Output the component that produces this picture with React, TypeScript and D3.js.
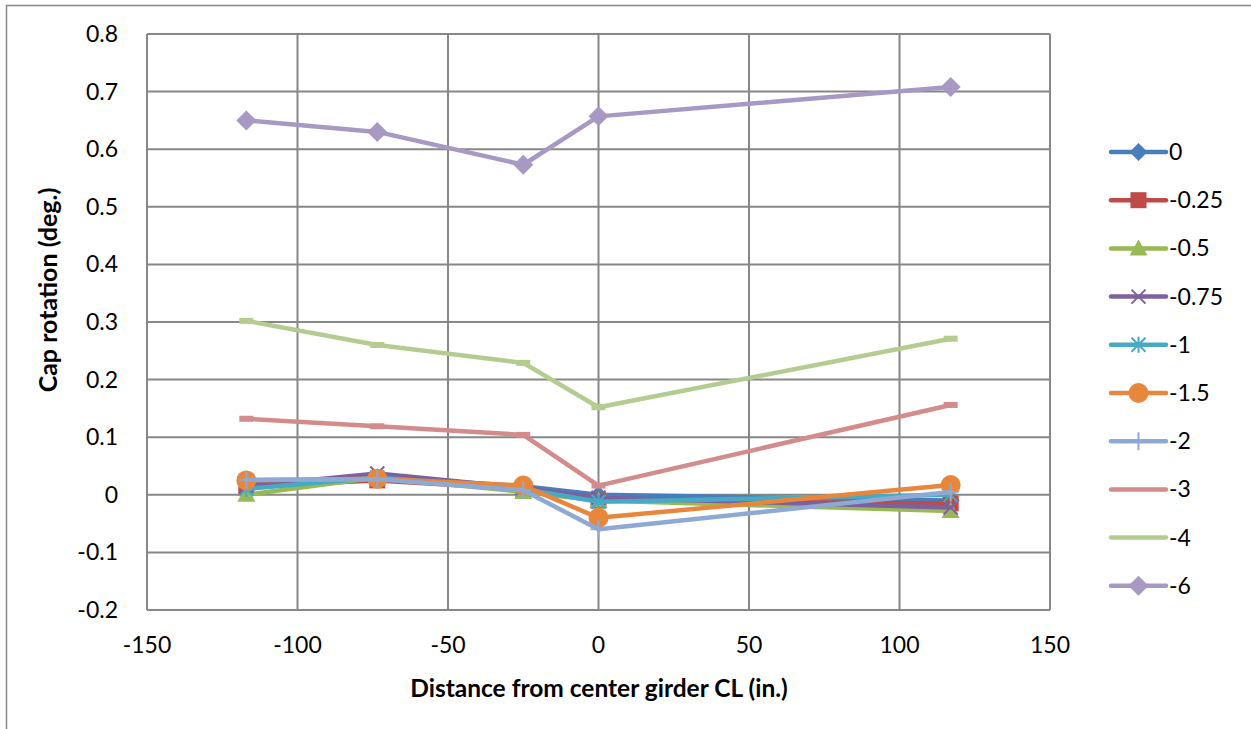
import React from "react";
import * as d3 from "d3";

const xValues = [-117, -73.5, -25, 0, 117];
const seriesNames = ["0", "-0.25", "-0.5", "-0.75", "-1", "-1.5", "-2", "-3", "-4", "-6"];
const s0 = [0.02, 0.03, 0.015, 0.0, -0.01];
const s025 = [0.015, 0.025, 0.01, -0.01, -0.015];
const s05 = [0.0, 0.03, 0.005, -0.01, -0.028];
const s075 = [0.015, 0.037, 0.012, -0.005, -0.022];
const s1 = [0.01, 0.03, 0.01, -0.012, 0.0];
const s15 = [0.025, 0.028, 0.016, -0.04, 0.017];
const s2 = [0.026, 0.027, 0.008, -0.06, 0.005];
const s3 = [0.132, 0.119, 0.104, 0.016, 0.156];
const s4 = [0.302, 0.26, 0.229, 0.152, 0.271];
const s6 = [0.65, 0.63, 0.573, 0.657, 0.708];
const seriesValues = [s0, s025, s05, s075, s1, s15, s2, s3, s4, s6];
const colors = ["#4A7EBB", "#BE4B48", "#98B954", "#7D60A0", "#46AAC5", "#E8873C", "#8EA9D3", "#D48B8B", "#B5CC90", "#A898C4"];
const markers = ["diamond", "square", "triangle", "x", "star", "circle", "plus", "dash", "dash", "diamond6"];
const xTicks = [-150, -100, -50, 0, 50, 100, 150];
const yTicks = [-0.2, -0.1, 0, 0.1, 0.2, 0.3, 0.4, 0.5, 0.6, 0.7, 0.8];

const FONT = "Lato, 'Open Sans', sans-serif";

function Marker({ type, x, y, color }: { type: string; x: number; y: number; color: string }) {
  switch (type) {
    case "diamond":
      return <path d={`M${x},${y - 9}L${x + 9},${y}L${x},${y + 9}L${x - 9},${y}Z`} fill={color} />;
    case "diamond6":
      return <path d={`M${x},${y - 10}L${x + 10},${y}L${x},${y + 10}L${x - 10},${y}Z`} fill={color} />;
    case "square":
      return <rect x={x - 8} y={y - 8} width={16} height={16} fill={color} />;
    case "triangle":
      return <path d={`M${x},${y - 9}L${x + 9},${y + 7}L${x - 9},${y + 7}Z`} fill={color} />;
    case "x":
      return (
        <path d={`M${x - 7},${y - 7}L${x + 7},${y + 7}M${x - 7},${y + 7}L${x + 7},${y - 7}`} stroke={color} strokeWidth={2} />
      );
    case "star":
      return (
        <path
          d={`M${x - 7},${y - 7}L${x + 7},${y + 7}M${x - 7},${y + 7}L${x + 7},${y - 7}M${x},${y - 8}L${x},${y + 8}`}
          stroke={color}
          strokeWidth={2}
        />
      );
    case "circle":
      return <circle cx={x} cy={y} r={10} fill={color} />;
    case "plus":
      return <path d={`M${x - 8},${y}L${x + 8},${y}M${x},${y - 9}L${x},${y + 9}`} stroke={color} strokeWidth={2} />;
    case "dash":
      return <rect x={x - 7} y={y - 3} width={14} height={6} fill={color} />;
    default:
      return null;
  }
}

export default function App() {
  const W = 1251;
  const H = 729;
  const left = 147;
  const right = 1050;
  const top = 34;
  const bottom = 610;
  const x = d3.scaleLinear().domain([-150, 150]).range([left, right]);
  const y = d3.scaleLinear().domain([-0.2, 0.8]).range([bottom, top]);
  const line = d3
    .line<number>()
    .x((_, i) => x(xValues[i]))
    .y((d) => y(d));

  const legendX1 = 1111;
  const legendX2 = 1166;
  const legendY0 = 152;
  const legendStep = 48.2;
  const gridColor = "#878787";
  const fmt = (t: number) => String(Number(t.toFixed(1)));

  return (
    <div style={{ position: "fixed", left: 0, top: 0 }}>
      <svg width={W} height={H} style={{ display: "block", background: "#fff" }}>
        <rect x={6.5} y={5.5} width={1260} height={740} fill="#fff" stroke={gridColor} strokeWidth={1.5} />
        {/* gridlines */}
        {xTicks.map((t) => (
          <line key={"gx" + t} x1={x(t)} x2={x(t)} y1={top} y2={bottom} stroke={gridColor} strokeWidth={2} />
        ))}
        {yTicks.map((t) => (
          <line key={"gy" + t} x1={left} x2={right} y1={y(t)} y2={y(t)} stroke={gridColor} strokeWidth={2} />
        ))}
        {/* tick labels */}
        {yTicks.map((t) => (
          <text
            key={"ty" + t}
            x={118}
            y={y(t)}
            dy="0.35em"
            textAnchor="end"
            fontFamily={FONT}
            fontSize={23}
            fill="#000"
          >
            {fmt(t)}
          </text>
        ))}
        {xTicks.map((t) => (
          <text
            key={"tx" + t}
            x={x(t)}
            y={645}
            dy="0.35em"
            textAnchor="middle"
            fontFamily={FONT}
            fontSize={23}
            fill="#000"
          >
            {String(t)}
          </text>
        ))}
        {/* axis titles */}
        <text
          x={599}
          y={688}
          dy="0.35em"
          textAnchor="middle"
          fontFamily={FONT}
          fontWeight="bold"
          fontSize={24.5}
          fill="#000"
        >
          Distance from center girder CL (in.)
        </text>
        <text
          transform={`translate(48,290) rotate(-90)`}
          dy="0.35em"
          textAnchor="middle"
          fontFamily={FONT}
          fontWeight="bold"
          fontSize={25}
          fill="#000"
        >
          Cap rotation (deg.)
        </text>
        {/* series */}
        {seriesValues.map((vals, si) => (
          <g key={"s" + si}>
            <path
              d={line(vals) || ""}
              fill="none"
              stroke={colors[si]}
              strokeWidth={4.5}
              strokeLinejoin="round"
              strokeLinecap="round"
            />
            {vals.map((v, i) => (
              <Marker key={i} type={markers[si]} x={x(xValues[i])} y={y(v)} color={colors[si]} />
            ))}
          </g>
        ))}
        {/* legend */}
        {seriesNames.map((name, si) => {
          const ly = legendY0 + si * legendStep;
          return (
            <g key={"l" + si}>
              <line
                x1={legendX1}
                x2={legendX2}
                y1={ly}
                y2={ly}
                stroke={colors[si]}
                strokeWidth={4.5}
                strokeLinecap="round"
              />
              {markers[si] !== "dash" && (
                <Marker type={markers[si]} x={(legendX1 + legendX2) / 2} y={ly} color={colors[si]} />
              )}
              <text x={1169} y={ly} dy="0.35em" fontFamily={FONT} fontSize={23} fill="#000">
                {name}
              </text>
            </g>
          );
        })}
      </svg>
    </div>
  );
}
